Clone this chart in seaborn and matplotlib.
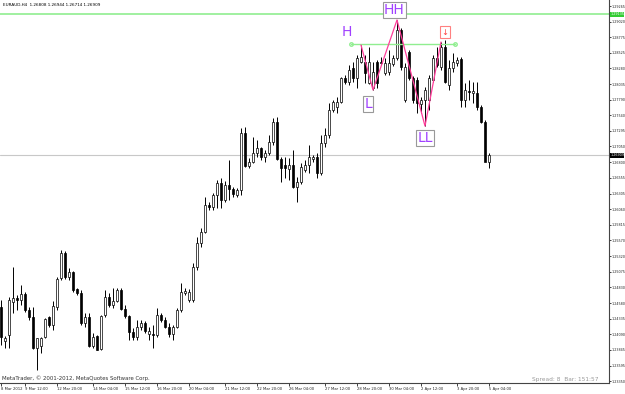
import matplotlib
matplotlib.use("Agg")
import matplotlib.pyplot as plt
import seaborn as sns
import pandas as pd
from matplotlib import font_manager
from matplotlib.transforms import blended_transform_factory

sns.set_style("white")
plt.rcParams['font.family'] = ['DejaVu Sans']
_names = {f.name for f in font_manager.fontManager.ttflist}
NARROW = 'Liberation Sans Narrow' if 'Liberation Sans Narrow' in _names else None
if NARROW:
    tick_font = [NARROW, 'DejaVu Sans']
    tick_size = 3.1
else:
    tick_font = ['DejaVu Sans']
    tick_size = 2.4

symbol_title = "EURAUD,H4  1.26808 1.26944 1.26714 1.26909"

opens = [1.24519,1.23983,1.24077,1.24597,1.24661,1.24629,1.24724,1.24471,1.24361,1.23872,
         1.23904,1.24046,1.24361,1.24235,1.24519,1.24976,1.25370,1.24992,1.25070,1.24802,
         1.24739,1.24266,1.24361,1.23904,1.24061,1.23856,1.24392,1.24676,1.24550,1.24613,
         1.24787,1.24487,1.24377,1.24124,1.24046,1.24203,1.24266,1.24093,1.24093,1.24077,
         1.24392,1.24314,1.24203,1.24093,1.24203,1.24471,1.24739,1.24629,1.24629,1.25149,
         1.25528,1.25701,1.26127,1.26096,1.26285,1.26474,1.26206,1.26443,1.26380,1.26285,
         1.26364,1.27263,1.26742,1.26805,1.26947,1.27026,1.26884,1.26947,1.27121,1.27436,
         1.26853,1.26758,1.26695,1.26758,1.26411,1.26490,1.26679,1.26758,1.26853,1.26884,
         1.26632,1.27105,1.27231,1.27625,1.27673,1.27751,1.28130,1.28067,1.28288,1.28130,
         1.28382,1.28382,1.28051,1.27972,1.28382,1.28382,1.28209,1.28225,1.28351,1.28445,
         1.28887,1.27783,1.28540,1.28130,1.28098,1.27720,1.27783,1.27783,1.28098,1.28445,
         1.28303,1.28619,1.28020,1.28288,1.28366,1.28430,1.27783,1.27925,1.27893,1.27893,
         1.27673,1.27436,1.26808]
highs = [1.24629,1.24061,1.24676,1.25149,1.24708,1.24866,1.24755,1.24519,1.24519,1.24030,
         1.24046,1.24345,1.24377,1.24613,1.24992,1.25417,1.25402,1.25134,1.25086,1.24818,
         1.24787,1.24424,1.24424,1.24109,1.24077,1.24392,1.24787,1.24739,1.24818,1.24818,
         1.24818,1.24550,1.24392,1.24188,1.24314,1.24314,1.24298,1.24203,1.24235,1.24503,
         1.24424,1.24361,1.24266,1.24235,1.24503,1.24897,1.24818,1.24802,1.25212,1.25622,
         1.25764,1.26253,1.26175,1.26316,1.26521,1.26553,1.26506,1.26837,1.26411,1.26396,
         1.27341,1.27357,1.26868,1.27200,1.27152,1.27042,1.26995,1.27231,1.27499,1.27515,
         1.26884,1.26884,1.26868,1.26995,1.26569,1.26790,1.26837,1.27073,1.26916,1.26947,
         1.27231,1.27341,1.27736,1.27783,1.27830,1.28146,1.28177,1.28335,1.28382,1.28493,
         1.28650,1.28493,1.28619,1.28382,1.28414,1.28461,1.28445,1.28572,1.28493,1.29045,
         1.28919,1.28366,1.28572,1.28161,1.28146,1.27830,1.27988,1.28177,1.28493,1.28619,
         1.28698,1.28729,1.28414,1.28524,1.28461,1.28461,1.28051,1.28098,1.28067,1.28067,
         1.27704,1.27468,1.26944]
lows = [1.23919,1.23872,1.23872,1.24424,1.24471,1.24550,1.24440,1.24314,1.23856,1.23525,
        1.23793,1.24030,1.24203,1.24156,1.24471,1.24944,1.24960,1.24944,1.24755,1.24708,
        1.24235,1.24203,1.23888,1.23872,1.23841,1.23841,1.24361,1.24519,1.24503,1.24597,
        1.24471,1.24345,1.23998,1.23998,1.23998,1.24156,1.24109,1.23998,1.23872,1.24046,
        1.24282,1.24188,1.24046,1.23998,1.24188,1.24440,1.24708,1.24597,1.24597,1.25102,
        1.25465,1.25686,1.26048,1.26048,1.26080,1.26080,1.26175,1.26206,1.26253,1.26253,
        1.26285,1.26726,1.26711,1.26790,1.26884,1.26837,1.26805,1.26916,1.27073,1.26837,
        1.26490,1.26553,1.26521,1.26396,1.26175,1.26458,1.26648,1.26632,1.26805,1.26553,
        1.26600,1.27042,1.27184,1.27594,1.27578,1.27736,1.28035,1.28020,1.28067,1.27972,
        1.28366,1.28051,1.28035,1.27941,1.27972,1.28335,1.28177,1.28177,1.28319,1.28414,
        1.28256,1.27751,1.28098,1.27736,1.27578,1.27578,1.27373,1.27625,1.28067,1.28303,
        1.28256,1.28051,1.27941,1.28225,1.28319,1.27673,1.27673,1.27783,1.27736,1.27625,
        1.27420,1.26837,1.26714]
closes = [1.24046,1.24030,1.24629,1.24661,1.24629,1.24724,1.24471,1.24361,1.23872,1.24030,
          1.24030,1.24329,1.24235,1.24534,1.24960,1.25370,1.24992,1.25070,1.24787,1.24739,
          1.24266,1.24361,1.23904,1.24046,1.23841,1.24377,1.24676,1.24550,1.24613,1.24787,
          1.24487,1.24377,1.24124,1.24046,1.24203,1.24266,1.24140,1.24140,1.24077,1.24392,
          1.24314,1.24203,1.24093,1.24203,1.24471,1.24755,1.24771,1.24755,1.25149,1.25528,
          1.25701,1.26127,1.26096,1.26285,1.26474,1.26206,1.26443,1.26380,1.26301,1.26364,
          1.27263,1.26742,1.26805,1.26947,1.27026,1.26884,1.26947,1.27121,1.27436,1.26853,
          1.26711,1.26711,1.26758,1.26411,1.26490,1.26726,1.26758,1.26884,1.26884,1.26632,
          1.27105,1.27231,1.27625,1.27751,1.27751,1.28130,1.28067,1.28256,1.28130,1.28445,
          1.28461,1.28209,1.28382,1.28225,1.28051,1.28366,1.28366,1.28366,1.28445,1.28887,
          1.28303,1.28303,1.28130,1.27783,1.27736,1.27783,1.27941,1.28130,1.28445,1.28335,
          1.28619,1.28067,1.28288,1.28382,1.28414,1.27783,1.27941,1.27909,1.27925,1.27673,
          1.27436,1.26808,1.26909]

time_labels = ["8 Mar 2012", "9 Mar 12:00", "12 Mar 20:00", "14 Mar 04:00", "15 Mar 12:00",
               "16 Mar 20:00", "20 Mar 04:00", "21 Mar 12:00", "22 Mar 20:00", "26 Mar 04:00",
               "27 Mar 12:00", "28 Mar 20:00", "30 Mar 04:00", "2 Apr 12:00", "3 Apr 20:00",
               "5 Apr 04:00"]
time_label_bars = [0, 6, 14, 23, 31, 39, 47, 56, 64, 72, 81, 89, 97, 105, 114, 122]

price_ticks = [1.29265, 1.29020, 1.28775, 1.28525, 1.28280, 1.28035, 1.27790, 1.27540,
               1.27295, 1.27050, 1.26800, 1.26555, 1.26305, 1.26060, 1.25815, 1.25570,
               1.25320, 1.25075, 1.24830, 1.24580, 1.24335, 1.24090, 1.23845, 1.23595,
               1.23350]

zigzag_bars = [90, 93, 99, 106, 110]
zigzag_prices = [1.28650, 1.27941, 1.29045, 1.27373, 1.28698]

level_line = 1.29135
pivot_line = 1.28666
current_price = 1.26909

n = len(opens)
df = pd.DataFrame({"bar": range(n), "open": opens, "high": highs, "low": lows, "close": closes})

fig = plt.figure(figsize=(6.25, 3.94), dpi=100)
ax = fig.add_axes([0, 11 / 394, 609 / 625, 383 / 394])
ax.set_xlim(-0.25, 152)
ax.set_ylim(1.23320, 1.29360)

ax.axhline(current_price, color="#c8c8c8", lw=0.8, zorder=1)
ax.axhline(level_line, color="#90ee90", lw=1.2, zorder=1)

ax.vlines(df["bar"], df["low"], df["high"], color="black", lw=0.7, zorder=2)
up = df[df["close"] >= df["open"]]
dn = df[df["close"] < df["open"]]
minh = 0.00003
ax.bar(up["bar"], (up["close"] - up["open"]).clip(lower=minh), bottom=up["open"], width=0.62,
       facecolor="white", edgecolor="black", lw=0.5, zorder=3)
ax.bar(dn["bar"], (dn["open"] - dn["close"]).clip(lower=minh), bottom=dn["close"], width=0.62,
       facecolor="black", edgecolor="black", lw=0.5, zorder=3)

ax.plot([87.5, 113.5], [pivot_line, pivot_line], color="#90ee90", lw=1.0, zorder=4,
        marker="o", markersize=2.5, markerfacecolor="none", markeredgecolor="#90ee90")

zz = pd.DataFrame({"bar": zigzag_bars, "price": zigzag_prices})
sns.lineplot(data=zz, x="bar", y="price", ax=ax, color="#ff3d9a", lw=0.9, sort=False,
             zorder=5, legend=False)

purple = "#a040ff"
box = dict(boxstyle="square,pad=0.08", facecolor="white", edgecolor="#999999", lw=0.8)
ax.text(86.5, 1.28855, "H", color=purple, fontsize=10, ha="center", va="center", zorder=6)
ax.text(98.3, 1.29202, "HH", color=purple, fontsize=10, ha="center", va="center", bbox=box, zorder=6)
ax.text(91.8, 1.27720, "L", color=purple, fontsize=10, ha="center", va="center", bbox=box, zorder=6)
ax.text(106.0, 1.27184, "LL", color=purple, fontsize=10, ha="center", va="center", bbox=box, zorder=6)
ax.text(111.0, 1.28855, "\u2193", color="#ff4040", fontsize=6, ha="center", va="center",
        bbox=dict(boxstyle="square,pad=0.15", facecolor="white", edgecolor="#ff8080", lw=0.8), zorder=6)

for s in ["top", "left"]:
    ax.spines[s].set_visible(False)
for s in ["right", "bottom"]:
    ax.spines[s].set_color("#444444")
    ax.spines[s].set_linewidth(0.8)
ax.yaxis.tick_right()
ax.set_yticks(price_ticks)
ax.set_yticklabels([f"{p:.5f}" for p in price_ticks])
ax.set_xticks(time_label_bars)
ax.set_xticklabels(time_labels)
for lab in ax.get_xticklabels():
    lab.set_ha("left")
    lab.set_family(tick_font)
for lab in ax.get_yticklabels():
    lab.set_family(tick_font)
ax.tick_params(axis="y", which="both", right=True, length=1.5, width=0.6, pad=0.4,
               labelsize=tick_size, colors="#222222")
ax.tick_params(axis="x", which="both", bottom=True, length=2.0, width=0.6, pad=0.8,
               labelsize=tick_size + 0.3, colors="#222222")
ax.set_xlabel("")
ax.set_ylabel("")

tr = blended_transform_factory(ax.transAxes, ax.transData)
ax.text(1.002, level_line, "1.29135", transform=tr, fontsize=tick_size, family=tick_font,
        color="white", va="center", ha="left",
        bbox=dict(boxstyle="square,pad=0.12", facecolor="#33cc33", edgecolor="none"), zorder=7,
        clip_on=False)
ax.text(1.002, current_price, "1.26909", transform=tr, fontsize=tick_size, family=tick_font,
        color="white", va="center", ha="left",
        bbox=dict(boxstyle="square,pad=0.12", facecolor="black", edgecolor="none"), zorder=7,
        clip_on=False)

fig.text(3 / 625, 1 - 5 / 394, symbol_title, fontsize=3.0, color="black", va="center", ha="left")
fig.text(2 / 625, 1 - 378 / 394, "MetaTrader, \u00a9 2001-2012, MetaQuotes Software Corp.",
         fontsize=3.9, color="#333333", va="center", ha="left")
fig.text(598 / 625, 1 - 380 / 394, "Spread: 8  Bar: 151:57", fontsize=4.2, color="#999999",
         va="center", ha="right")

fig.savefig("out.png", dpi=100)
